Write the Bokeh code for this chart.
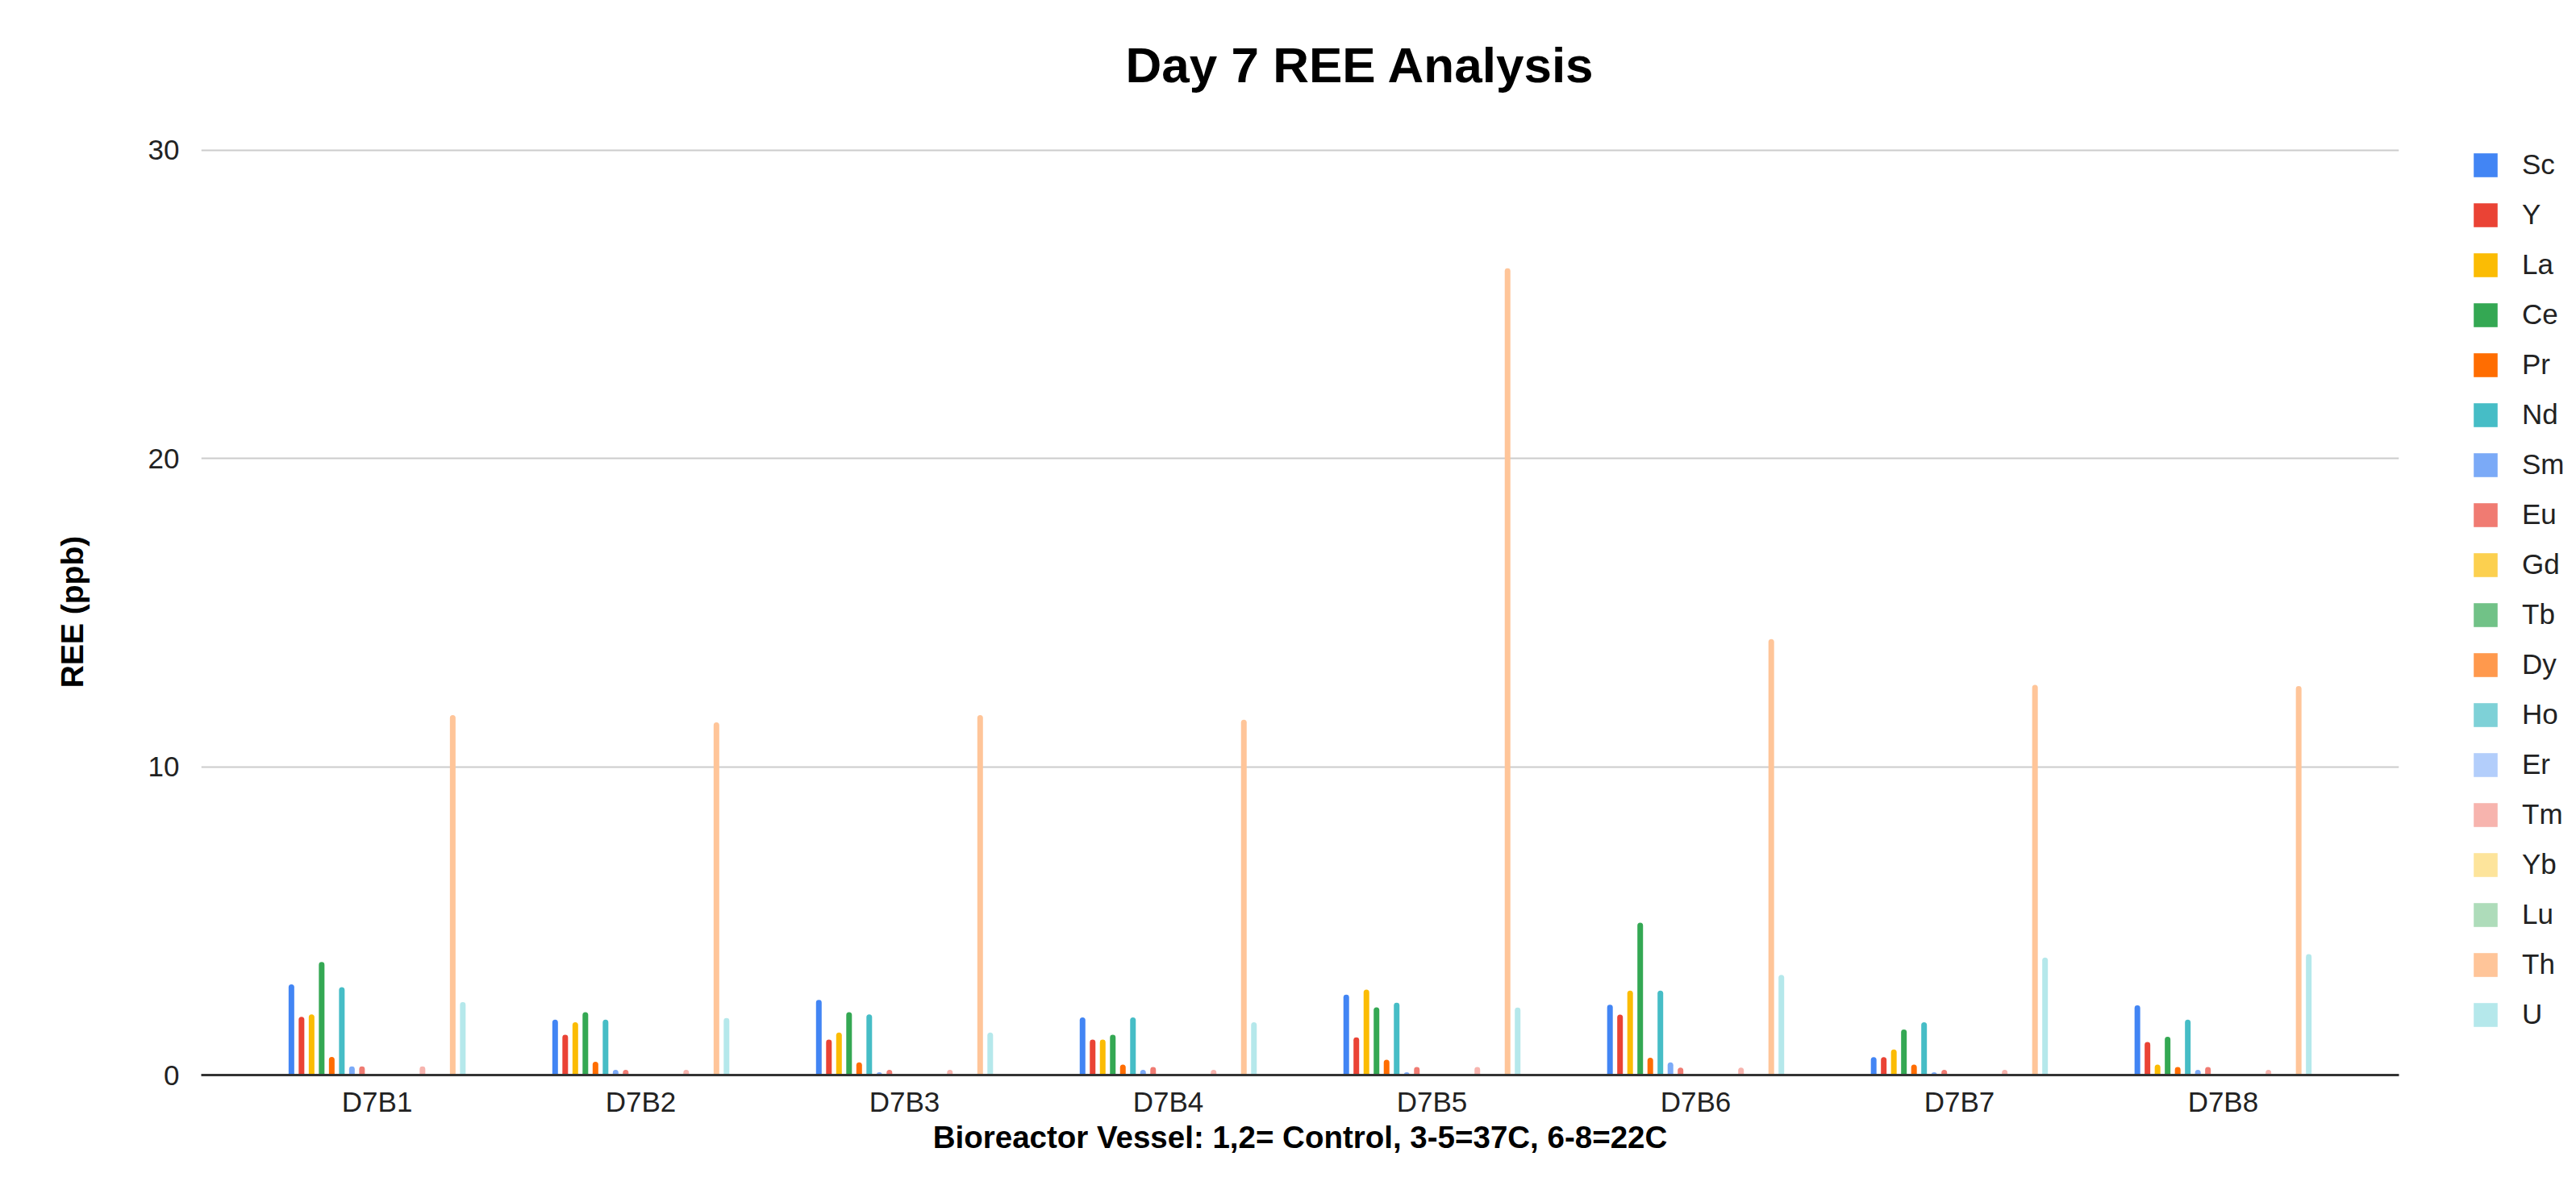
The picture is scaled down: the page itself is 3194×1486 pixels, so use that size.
from bokeh.plotting import figure
from bokeh.layouts import row
from bokeh.models import Range1d, FixedTicker, Legend, LegendItem, ColumnDataSource, Title
from bokeh.embed import file_html
from bokeh.resources import INLINE

groups = ["D7B1", "D7B2", "D7B3", "D7B4", "D7B5", "D7B6", "D7B7", "D7B8"]
elements = ["Sc", "Y", "La", "Ce", "Pr", "Nd", "Sm", "Eu", "Gd", "Tb",
            "Dy", "Ho", "Er", "Tm", "Yb", "Lu", "Th", "U"]
colors = ["#4285F4", "#EA4335", "#FBBC04", "#34A853", "#FF6D01", "#46BDC6",
          "#7BAAF7", "#F07B72", "#FCD04F", "#71C287", "#FF994D", "#7ED1D7",
          "#B3CEFB", "#F7B4AE", "#FDE49B", "#AEDCBA", "#FFC599", "#B5E8EB"]

Sc = [2.94, 1.80, 2.44, 1.87, 2.61, 2.28, 0.58, 2.26]
Y_ = [1.89, 1.31, 1.15, 1.15, 1.22, 1.96, 0.58, 1.07]
La = [1.97, 1.71, 1.38, 1.15, 2.77, 2.74, 0.83, 0.34]
Ce = [3.67, 2.04, 2.04, 1.31, 2.20, 4.94, 1.48, 1.24]
Pr = [0.59, 0.43, 0.41, 0.34, 0.50, 0.56, 0.34, 0.26]
Nd = [2.85, 1.80, 1.97, 1.87, 2.35, 2.74, 1.71, 1.80]
Sm = [0.28, 0.17, 0.09, 0.17, 0.09, 0.41, 0.09, 0.17]
Eu = [0.28, 0.17, 0.17, 0.26, 0.26, 0.24, 0.17, 0.26]
Gd = [0, 0, 0, 0, 0, 0, 0, 0]
Tb = [0, 0, 0, 0, 0, 0, 0, 0]
Dy = [0, 0, 0, 0, 0, 0, 0, 0]
Ho = [0, 0, 0, 0, 0, 0, 0, 0]
Er = [0, 0, 0, 0, 0, 0, 0, 0]
Tm = [0.28, 0.17, 0.17, 0.17, 0.26, 0.24, 0.17, 0.17]
Yb = [0, 0, 0, 0, 0, 0, 0, 0]
Lu = [0, 0, 0, 0, 0, 0, 0, 0]
Th = [11.68, 11.44, 11.68, 11.53, 26.17, 14.14, 12.66, 12.62]
U = [2.37, 1.85, 1.38, 1.71, 2.19, 3.25, 3.81, 3.92]

series = [Sc, Y_, La, Ce, Pr, Nd, Sm, Eu, Gd, Tb, Dy, Ho, Er, Tm, Yb, Lu, Th, U]
y_ticks = [0, 10, 20, 30]

FONT = "Liberation Sans"

p = figure(width=3000, height=1486, output_backend="svg", toolbar_location=None,
           x_range=Range1d(-0.667, 7.667), y_range=Range1d(0, 30.05),
           title="Day 7 REE Analysis",
           min_border_left=249, min_border_right=26, min_border_top=184,
           min_border_bottom=153, background_fill_color="white",
           border_fill_color="white", outline_line_color=None)

p.title.align = "left"
p.title.offset = 1146
p.title.text_font = FONT
p.title.text_font_size = "62px"
p.title.text_font_style = "bold"
p.title.text_color = "#000000"
p.title.standoff = 81

# blank spacer between the plot area and the title
p.add_layout(Title(text="\u00a0", text_color="white", text_font_size="10px", standoff=16), "above")

# legend lives in a narrow companion figure on the right
pl = figure(width=194, height=1486, output_backend="svg", toolbar_location=None,
            x_range=Range1d(-20, -19), y_range=Range1d(0, 1),
            x_axis_type=None, y_axis_type=None,
            min_border_left=0, min_border_right=0, min_border_top=0, min_border_bottom=0,
            background_fill_color="white", border_fill_color="white", outline_line_color=None)
pl.grid.visible = False

step = 0.03823
bar_w = 0.0214
items = []
for j, (name, vals, col) in enumerate(zip(elements, series, colors)):
    src = ColumnDataSource(dict(x=[i + (j - 8.5) * step for i in range(len(groups))], top=vals))
    p.vbar(x="x", top="top", width=bar_w, source=src, fill_color=col, line_color=None,
           border_radius=(4, 4, 0, 0))
    key = pl.vbar(x="x", top="top", width=bar_w, source=src, fill_color=col, line_color=None,
                  border_radius=4)
    items.append(LegendItem(label=name, renderers=[key]))

legend = Legend(items=items, location="top_left", glyph_width=37, glyph_height=37,
                label_height=40, spacing=22, padding=0, margin=0, label_standoff=27,
                label_text_font=FONT, label_text_font_size="35px", label_text_color="#222222",
                border_line_color=None, background_fill_alpha=0)
legend.location = (63, 1149 - (18 * 40 + 17 * 22))
pl.add_layout(legend)

# axes
p.xaxis.ticker = FixedTicker(ticks=list(range(len(groups))))
p.xaxis.major_label_overrides = {i: g for i, g in enumerate(groups)}
p.xaxis.major_label_text_font = FONT
p.xaxis.major_label_text_font_size = "35px"
p.xaxis.major_label_text_color = "#222222"
p.xaxis.major_label_standoff = 7
p.xaxis.major_tick_line_color = None
p.xaxis.minor_tick_line_color = None
p.xaxis.axis_line_color = "#333333"
p.xaxis.axis_line_width = 3
p.xaxis.axis_label = "Bioreactor Vessel: 1,2= Control, 3-5=37C, 6-8=22C"
p.xaxis.axis_label_text_font = FONT
p.xaxis.axis_label_text_font_size = "38.5px"
p.xaxis.axis_label_text_font_style = "bold"
p.xaxis.axis_label_text_color = "#000000"
p.xaxis.axis_label_standoff = 0

p.yaxis.ticker = FixedTicker(ticks=y_ticks)
p.yaxis.major_label_text_font = FONT
p.yaxis.major_label_text_font_size = "35px"
p.yaxis.major_label_text_color = "#222222"
p.yaxis.major_label_standoff = 21
p.yaxis.major_tick_line_color = None
p.yaxis.minor_tick_line_color = None
p.yaxis.axis_line_color = None
p.yaxis.axis_label = "REE (ppb)"
p.yaxis.axis_label_text_font = FONT
p.yaxis.axis_label_text_font_size = "39px"
p.yaxis.axis_label_text_font_style = "bold"
p.yaxis.axis_label_text_color = "#000000"
p.yaxis.axis_label_standoff = 70

p.xgrid.grid_line_color = None
p.ygrid.grid_line_color = "#cccccc"
p.ygrid.grid_line_width = 2

layout = row(p, pl, spacing=0)
open("out.html", "w").write(file_html(layout, INLINE))
